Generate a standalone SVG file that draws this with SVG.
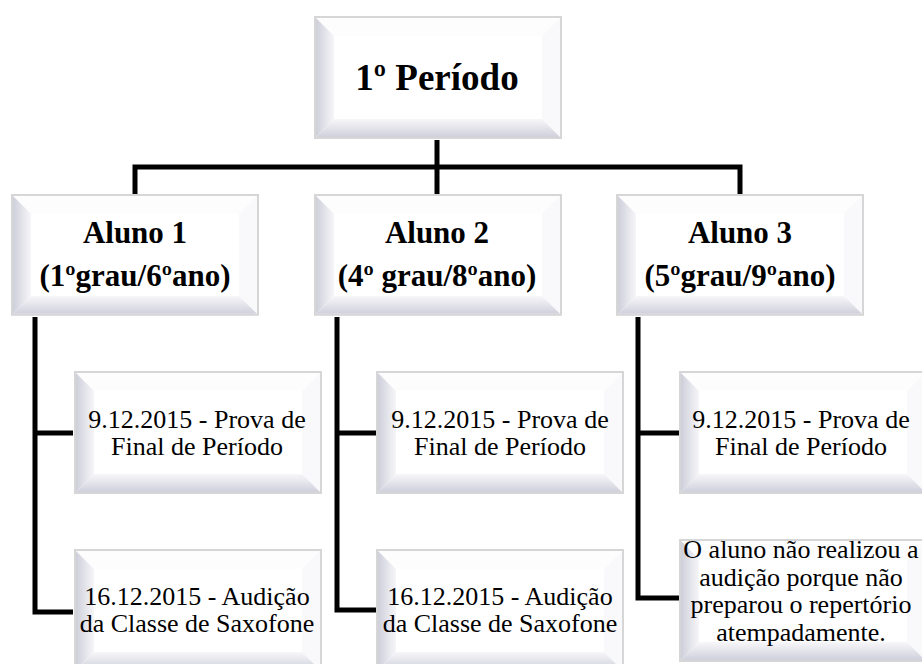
<svg xmlns="http://www.w3.org/2000/svg" xmlns:xlink="http://www.w3.org/1999/xlink" width="922" height="664" viewBox="0 0 922 664">
<style>
text{fill:#000;text-anchor:middle}
.h1{font-size:37px;font-weight:bold}
.h2{font-size:31px;font-weight:bold}
.b{font-size:26px}
.conn{fill:none;stroke:#000;stroke-width:5;stroke-linejoin:miter;stroke-linecap:butt}
</style>
<defs>
<linearGradient id="gl" x1="0" y1="0" x2="1" y2="0">
<stop offset="0" stop-color="#cfcfdb"/><stop offset="1" stop-color="#f6f6f9"/>
</linearGradient>
<linearGradient id="gb" x1="0" y1="0" x2="0" y2="1">
<stop offset="0" stop-color="#f7f7fa"/><stop offset="1" stop-color="#d0d0dc"/>
</linearGradient>
<g id="box">
<rect x="0" y="0" width="246" height="121" fill="#ffffff" stroke="#d6d6d6" stroke-width="2"/>
<polygon points="1,1 245,1 227,19 19,19" fill="#fdfdfe"/>
<polygon points="245,1 245,120 227,102 227,19" fill="#f9f9fb"/>
<polygon points="1,1 19,19 19,102 1,120" fill="url(#gl)"/>
<polygon points="1,120 19,102 227,102 245,120" fill="url(#gb)"/>
</g>
</defs>
<g id="connectors">
<path class="conn" d="M437 140 V194"/>
<path class="conn" d="M135 196 V167 H740 V196"/>
<path class="conn" d="M35 317 V612 H73 M35 433 H73"/>
<path class="conn" d="M337 317 V610 H377 M337 433 H377"/>
<path class="conn" d="M638 317 V598 H680 M638 433 H680"/>
</g>
<g font-family="Liberation Serif, Times New Roman, serif">
<g id="periodo">
<use xlink:href="#box" transform="translate(315,17)"/>
<text class="h1" x="437" y="90" font-family="Liberation Serif">1º Período</text>
</g>
<g id="aluno1">
<use xlink:href="#box" transform="translate(12,195) scale(1,0.99)"/>
<text class="h2" x="135" y="243" font-family="Liberation Serif">Aluno 1</text>
<text class="h2" x="135" y="286" font-family="Liberation Serif">(1ºgrau/6ºano)</text>
</g>
<g id="aluno2">
<use xlink:href="#box" transform="translate(315,195) scale(1,0.99)"/>
<text class="h2" x="437" y="243" font-family="Liberation Serif">Aluno 2</text>
<text class="h2" x="437" y="286" font-family="Liberation Serif">(4º grau/8ºano)</text>
</g>
<g id="aluno3">
<use xlink:href="#box" transform="translate(617,195) scale(1,0.99)"/>
<text class="h2" x="740" y="243" font-family="Liberation Serif">Aluno 3</text>
<text class="h2" x="740" y="286" font-family="Liberation Serif">(5ºgrau/9ºano)</text>
</g>
<g id="a1-prova">
<use xlink:href="#box" transform="translate(75,372)"/>
<text class="b" x="197" y="428" font-family="Liberation Serif">9.12.2015 - Prova de</text>
<text class="b" x="197" y="455" font-family="Liberation Serif">Final de Período</text>
</g>
<g id="a1-audicao">
<use xlink:href="#box" transform="translate(75,550)"/>
<text class="b" x="197" y="605" font-family="Liberation Serif">16.12.2015 - Audição</text>
<text class="b" x="197" y="632" font-family="Liberation Serif">da Classe de Saxofone</text>
</g>
<g id="a2-prova">
<use xlink:href="#box" transform="translate(377,372)"/>
<text class="b" x="500" y="428" font-family="Liberation Serif">9.12.2015 - Prova de</text>
<text class="b" x="500" y="455" font-family="Liberation Serif">Final de Período</text>
</g>
<g id="a2-audicao">
<use xlink:href="#box" transform="translate(377,550)"/>
<text class="b" x="500" y="605" font-family="Liberation Serif">16.12.2015 - Audição</text>
<text class="b" x="500" y="632" font-family="Liberation Serif">da Classe de Saxofone</text>
</g>
<g id="a3-prova">
<use xlink:href="#box" transform="translate(680,372)"/>
<text class="b" x="801" y="428" font-family="Liberation Serif">9.12.2015 - Prova de</text>
<text class="b" x="801" y="455" font-family="Liberation Serif">Final de Período</text>
</g>
<g id="a3-audicao">
<use xlink:href="#box" transform="translate(680,540)"/>
<text class="b" x="801" y="558" font-family="Liberation Serif">O aluno não realizou a</text>
<text class="b" x="801" y="586" font-family="Liberation Serif">audição porque não</text>
<text class="b" x="801" y="613" font-family="Liberation Serif">preparou o repertório</text>
<text class="b" x="801" y="641" font-family="Liberation Serif">atempadamente.</text>
</g>
</g>
</svg>
